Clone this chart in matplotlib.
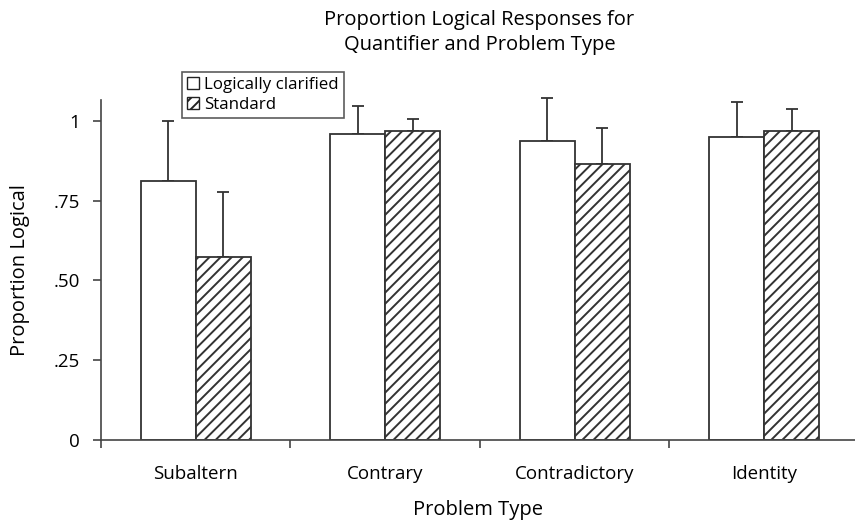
import matplotlib
matplotlib.use("Agg")
import matplotlib.pyplot as plt
import numpy as np
from matplotlib.patches import Patch

categories = ["Subaltern", "Contrary", "Contradictory", "Identity"]
clarified = [0.81, 0.958, 0.936, 0.949]
clarified_err = [0.19, 0.089, 0.134, 0.11]
standard = [0.574, 0.969, 0.865, 0.969]
standard_err = [0.204, 0.035, 0.112, 0.068]
yticks = [0, 0.25, 0.50, 0.75, 1]
yticklabels = ["0", ".25", ".50", ".75", "1"]

plt.rcParams["font.family"] = ["Open Sans", "DejaVu Sans"]
plt.rcParams["hatch.linewidth"] = 1.4
plt.rcParams["hatch.color"] = "#262626"

fig = plt.figure(figsize=(8.55, 5.23), dpi=100)
ax = fig.add_axes([101/855, 83/523, 754/855, 340/523])

x = np.arange(len(categories))
w = 0.29
ec = "#333333"
ax.bar(x - w/2, clarified, w, color="white", edgecolor=ec, linewidth=1.3, zorder=2)
ax.bar(x + w/2, standard, w, color="white", edgecolor=ec, linewidth=1.3, hatch="///", zorder=2)
for xs, vals, errs in [(x - w/2, clarified, clarified_err), (x + w/2, standard, standard_err)]:
    eb = ax.errorbar(xs, vals, yerr=[np.zeros(4), errs], fmt="none",
                     ecolor=ec, elinewidth=1.3, capsize=4, capthick=1.3, zorder=1)
    for art in eb.lines[1] + eb.lines[2]:
        art.set_clip_on(False)

ax.set_xlim(-0.5, 3.479)
ax.set_ylim(0, 1.065)
ax.set_yticks(yticks)
ax.set_yticklabels(yticklabels, fontsize=13.5)
ax.set_xticks(np.arange(-0.5, 3.5, 1.0))
ax.set_xticklabels([])
ax.set_xticks(x, minor=True)
ax.set_xticklabels(categories, minor=True, fontsize=13.5)
ax.tick_params(axis="x", which="minor", length=0, pad=18)
ax.tick_params(axis="x", which="major", length=6, direction="out", color="#444444", width=1.2)
ax.tick_params(axis="y", length=6, direction="out", color="#444444", width=1.2, pad=9)
for s in ["top", "right"]:
    ax.spines[s].set_visible(False)
for s in ["left", "bottom"]:
    ax.spines[s].set_color("#444444")
    ax.spines[s].set_linewidth(1.2)

ax.set_xlabel("Problem Type", fontsize=14.5, labelpad=12)
ax.set_ylabel("Proportion Logical", fontsize=14.5, labelpad=17)

cx = (101 + 858) / 2 / 855
fig.text(cx, 1 - 25/523, "Proportion Logical Responses for", ha="center", va="baseline", fontsize=14.5)
fig.text(cx, 1 - 50/523, "Quantifier and Problem Type", ha="center", va="baseline", fontsize=14.5)

handles = [Patch(facecolor="white", edgecolor="#222222", linewidth=1.0),
           Patch(facecolor="white", edgecolor="#222222", linewidth=1.0, hatch="///")]
leg = ax.legend(handles, ["Logically clarified", "Standard"], loc="upper left",
                bbox_to_anchor=(182/855, 1 - 72/523), bbox_transform=fig.transFigure,
                fontsize=12.2, frameon=True, fancybox=False, handlelength=0.7, handleheight=0.7,
                handletextpad=0.3, borderpad=0.3, labelspacing=0.25, borderaxespad=0)
leg.get_frame().set_edgecolor("#333333")
leg.get_frame().set_linewidth(1.2)

fig.savefig("out.png", dpi=100)
